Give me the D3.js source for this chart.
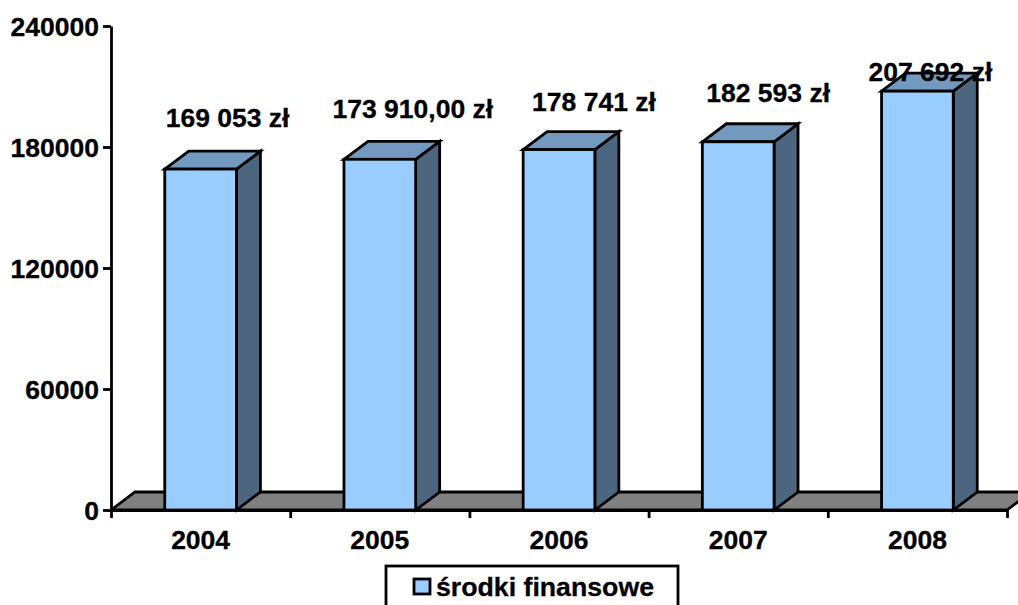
<!DOCTYPE html>
<html lang="pl">
<head>
    <meta charset="UTF-8">
    <title>środki finansowe</title>
    <script src="https://d3js.org/d3.v7.min.js"></script>
    <style>
        html, body { margin: 0; padding: 0; background: #fff; overflow: hidden; }
        svg { display: block; }
        text { font-family: "Liberation Sans", Arial, sans-serif; font-weight: bold; fill: #000; stroke: #000; stroke-width: 0.3; }
        .axis path, .axis line { stroke: #000; stroke-width: 2.8; }
        .axis text { font-size: 26.5px; }
        .label { font-size: 26.5px; text-anchor: middle; }
    </style>
</head>
<body>
    <svg width="1018" height="605"></svg>
    <script>
        // dane z wykresu
        const years = ["2004", "2005", "2006", "2007", "2008"];
        const values = [169053, 173910, 178741, 182593, 207692];
        const valueLabels = ["169 053 zł", "173 910,00 zł", "178 741 zł", "182 593 zł", "207 692 zł"];
        const yTicks = [0, 60000, 120000, 180000, 240000];
        const seriesName = "środki finansowe";

        // etykiety były ręcznie przesunięte na oryginale (px wzgledem srodka slupka / wierzcholka)
        const labelDx = [27, 33, 35, 30, 13];
        const labelDy = [-42, -41, -39, -40, -10];

        const svg = d3.select("svg");
        const plotLeft = 111, plotRight = 1007, plotTop = 26, plotBottom = 510;
        const depthX = 24, depthY = -18;

        const x = d3.scaleBand().domain(years).range([plotLeft, plotRight]).paddingInner(0.6).paddingOuter(0.3);
        const y = d3.scaleLinear().domain([0, 240000]).range([plotBottom, plotTop]);

        const lineStyle = s => s.attr("stroke", "#000").attr("stroke-width", 2.8).attr("stroke-linejoin", "miter");

        // podloga 3D
        svg.append("path")
            .attr("d", d3.line()([[plotLeft, plotBottom], [plotLeft + depthX, plotBottom + depthY], [plotRight + depthX, plotBottom + depthY], [plotRight, plotBottom]]) + "Z")
            .attr("fill", "#808080")
            .call(lineStyle);

        // slupki
        const bars = svg.selectAll(".bar").data(values).enter().append("g").attr("class", "bar");
        const w = x.bandwidth();

        bars.append("path") // bok
            .attr("d", (d, i) => {
                const x1 = x(years[i]) + w;
                return d3.line()([[x1, y(d)], [x1 + depthX, y(d) + depthY], [x1 + depthX, plotBottom + depthY], [x1, plotBottom]]) + "Z";
            })
            .attr("fill", "#4d6680")
            .call(lineStyle);

        bars.append("path") // gora
            .attr("d", (d, i) => {
                const x0 = x(years[i]);
                return d3.line()([[x0, y(d)], [x0 + depthX, y(d) + depthY], [x0 + w + depthX, y(d) + depthY], [x0 + w, y(d)]]) + "Z";
            })
            .attr("fill", "#7399bf")
            .call(lineStyle);

        bars.append("rect") // przod
            .attr("x", (d, i) => x(years[i]))
            .attr("y", d => y(d))
            .attr("width", w)
            .attr("height", d => plotBottom - y(d))
            .attr("fill", "#99ccff")
            .call(lineStyle);

        // os Y
        const yAxis = svg.append("g")
            .attr("class", "axis")
            .attr("transform", "translate(" + plotLeft + ",0)")
            .call(d3.axisLeft(y).tickValues(yTicks).tickSize(8).tickSizeOuter(0).tickPadding(4).tickFormat(d3.format("d")));
        yAxis.selectAll(".tick text").attr("dy", "0.34em");

        // os X - kreski miedzy kategoriami
        const xEdge = d3.scaleLinear().domain([0, years.length]).range([plotLeft, plotRight]);
        svg.append("g")
            .attr("class", "axis")
            .attr("transform", "translate(0," + plotBottom + ")")
            .call(d3.axisBottom(xEdge).tickValues(d3.range(years.length + 1)).tickSize(8).tickSizeOuter(0).tickFormat(""));

        // os X - opisy lat
        const xLabels = d3.scaleBand().domain(years).range([plotLeft, plotRight]);
        const xAxis = svg.append("g")
            .attr("class", "axis")
            .attr("transform", "translate(0," + plotBottom + ")")
            .call(d3.axisBottom(xLabels).tickSize(0).tickPadding(20));
        xAxis.select(".domain").remove();

        // etykiety wartosci
        svg.selectAll(".label").data(valueLabels).enter().append("text")
            .attr("class", "label")
            .attr("x", (d, i) => x(years[i]) + w / 2 + labelDx[i])
            .attr("y", (d, i) => y(values[i]) + labelDy[i])
            .text(d => d);

        // legenda (ucieta przez dolna krawedz jak na oryginale)
        const legend = svg.append("g").attr("transform", "translate(386,566)");
        legend.append("rect").attr("width", 292).attr("height", 60).attr("fill", "#fff").call(lineStyle);
        legend.append("rect").attr("x", 28).attr("y", 13).attr("width", 16).attr("height", 15).attr("fill", "#99ccff").call(lineStyle);
        legend.append("text").attr("x", 50).attr("y", 30).style("font-size", "26.7px").text(seriesName);
    </script>
</body>
</html>
